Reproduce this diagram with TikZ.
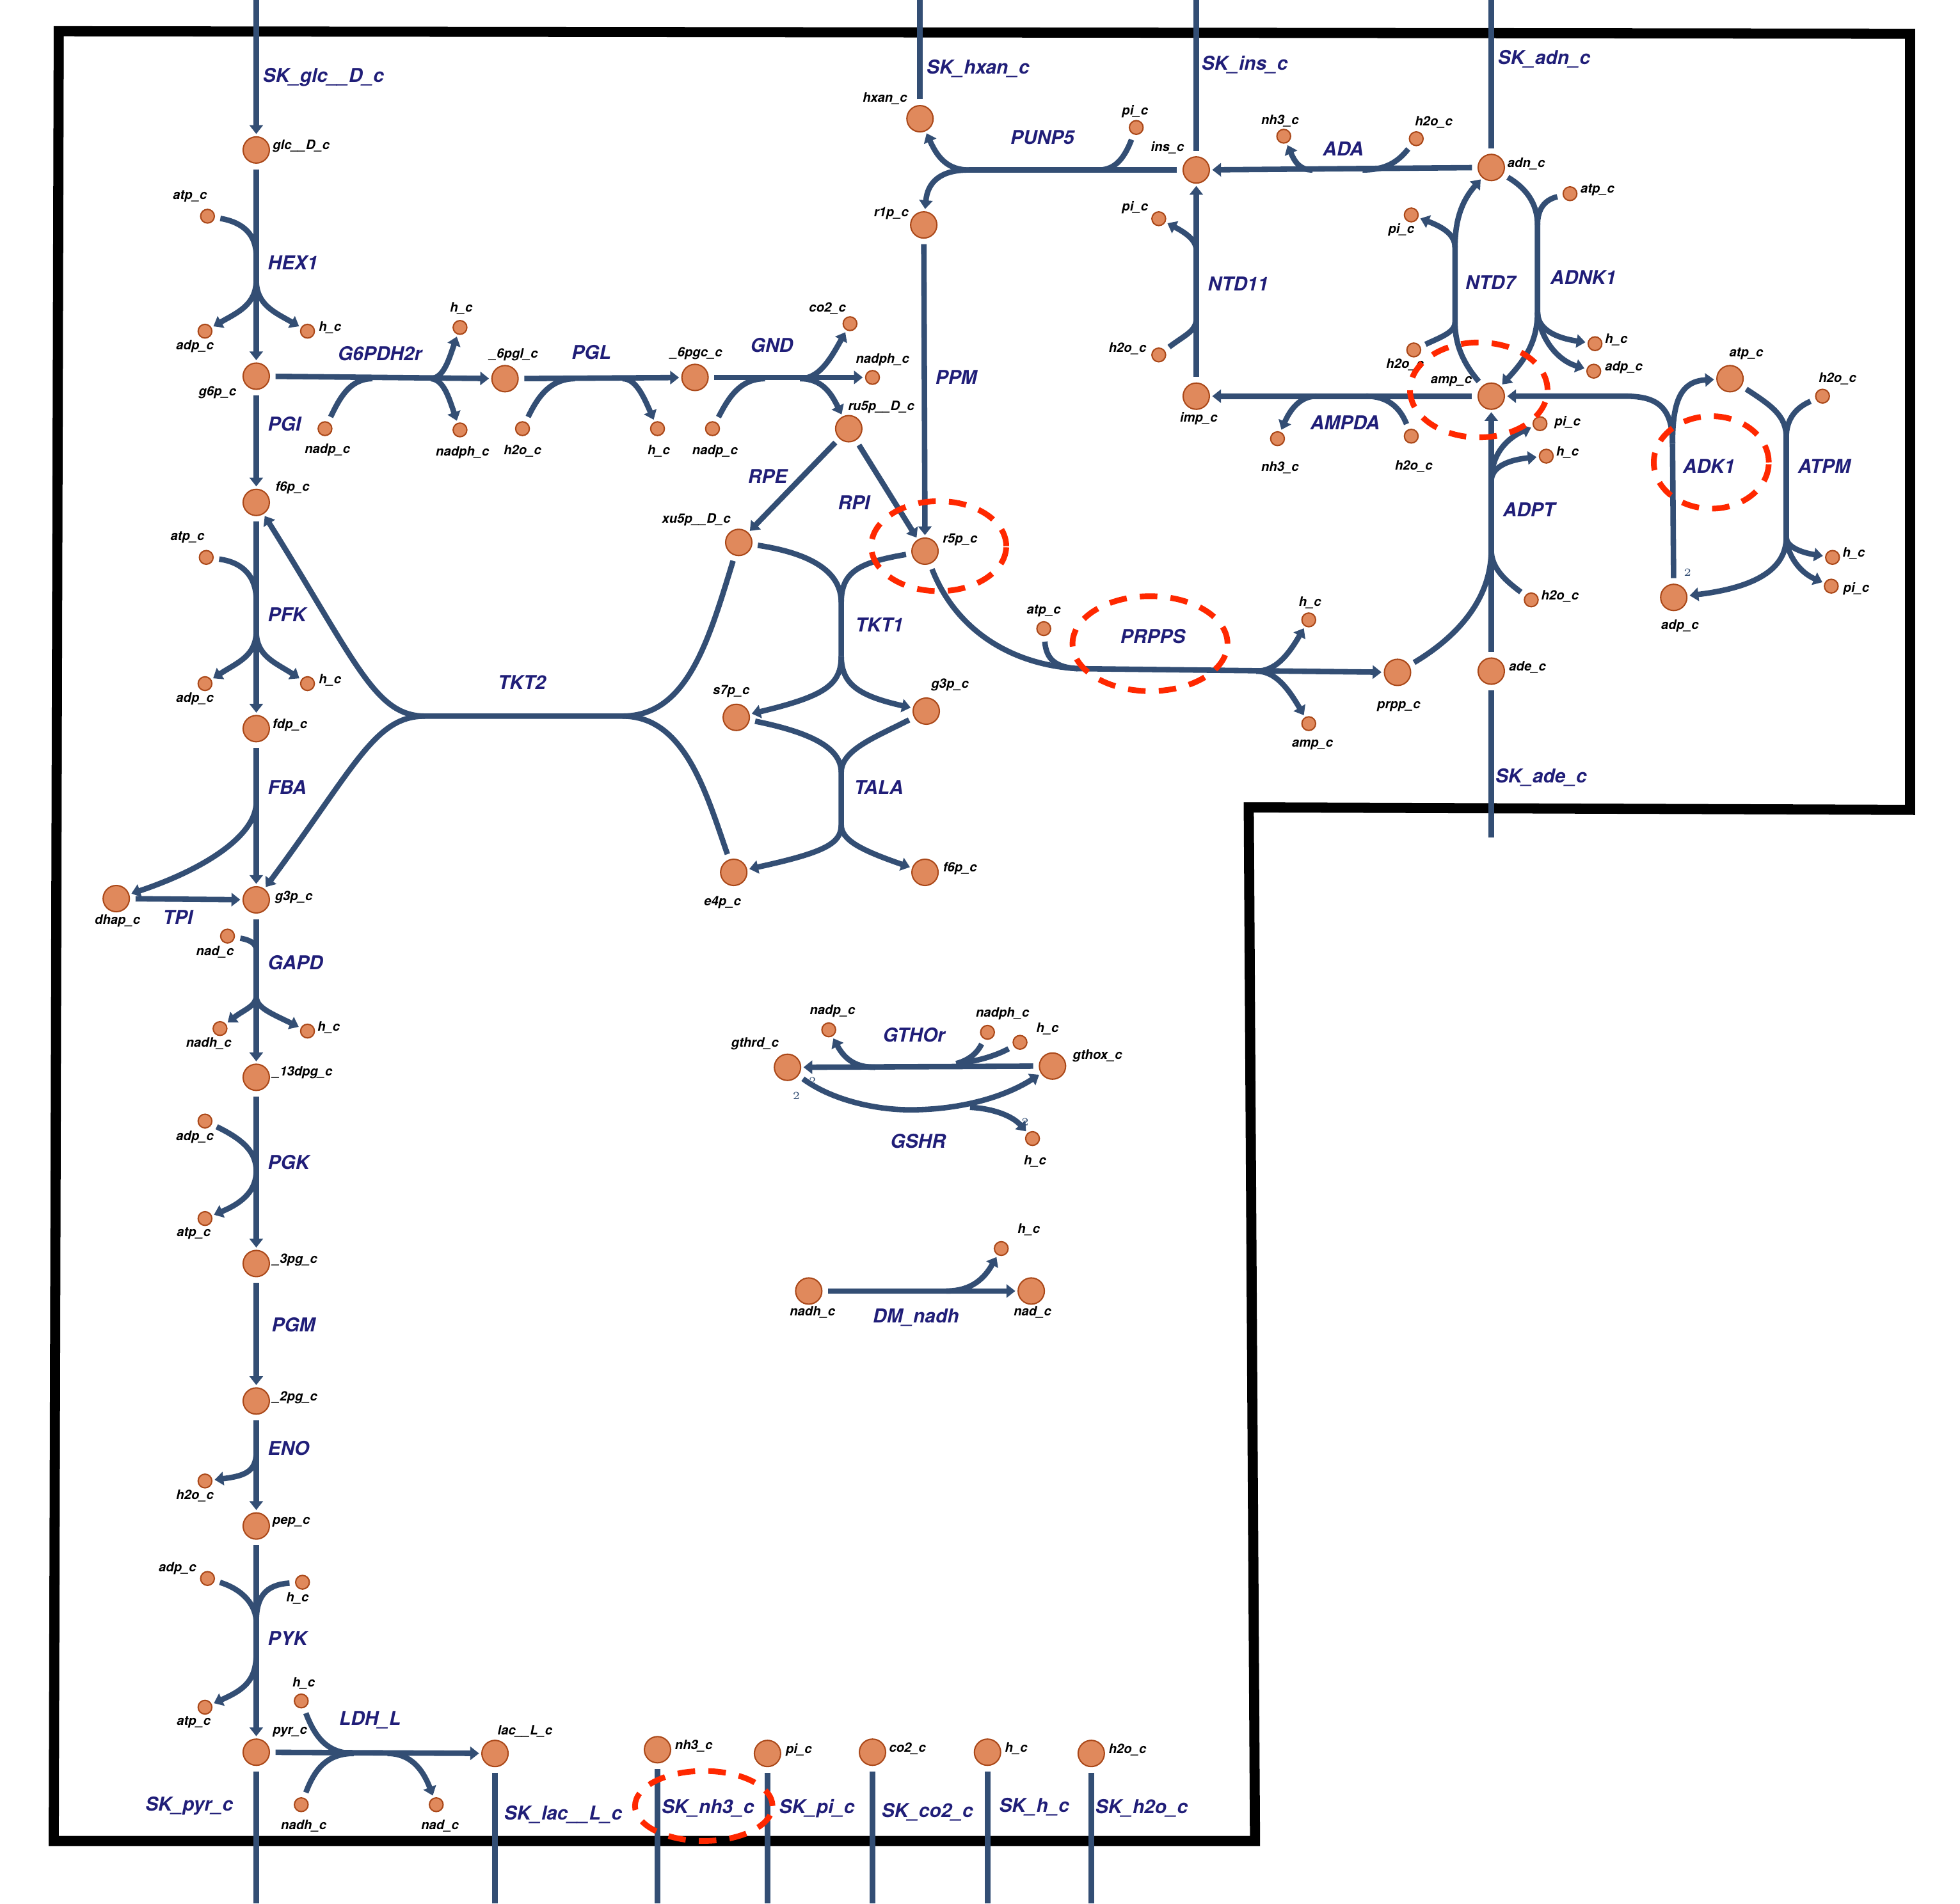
\documentclass[tikz,border=0pt]{standalone}
\usepackage{fontspec}
\usepackage{tikz}
\usetikzlibrary{
    arrows.meta
}
\newfontfamily\hv{TeX Gyre Heros}
\newcommand{\rxnfont}{\hv\bfseries\itshape\fontsize{8.7}{9}\selectfont}
\newcommand{\metfont}{\hv\bfseries\itshape\fontsize{5.9}{6}\selectfont}
\definecolor{rxnline}{RGB}{51,78,116}
\definecolor{rxntext}{RGB}{32,30,120}
\definecolor{metfill}{RGB}{224,137,92}
\definecolor{metline}{RGB}{170,72,25}
\definecolor{hired}{RGB}{255,40,0}
\tikzset{
    met/.style={
        circle,
        draw=metline,
        fill=metfill,
        line width=0.6pt,
        minimum size=0.42cm,
        inner sep=0pt
    },
    smet/.style={met, minimum size=0.22cm},
    mlab/.style={font=\metfont, inner sep=0pt},
    rlab/.style={font=\rxnfont, text=rxntext, inner sep=0pt, anchor=west},
    rxn/.style={draw=rxnline, line width=2.5pt},
    gapped/.style={shorten <=2.5pt},
    tip/.style={->, shorten >=1pt},
    stoich/.style={font=\fontsize{5}{5}\selectfont, text=rxnline, inner sep=0pt},
    hilite/.style={draw=hired, line width=2.6pt, dash pattern=on 8pt off 6pt},
    cellwall/.style={draw=black, line width=4.6pt, line join=miter}
}

\begin{document}
\begin{tikzpicture}[
    x=0.02cm,
    y=-0.02cm,
    >={Triangle[width=6pt,length=4pt]}
]
    \useasboundingbox (0,0) rectangle (1568,1523);

    % Compartimento
    \draw[cellwall] (47,25) -- (1528,27) -- (1528,648) -- (999,646)
        -- (1004,1473) -- (43,1473) -- cycle;

    % Metabolitos principales
    \node[met] (glc)   at (205,120)  {};
    \node[met] (g6p)   at (205,301)  {};
    \node[met] (f6p)   at (205,402)  {};
    \node[met] (fdp)   at (205,583)  {};
    \node[met] (dhap)  at (93,719)   {};
    \node[met] (g3p)   at (205,720)  {};
    \node[met] (dpg)   at (205,862)  {};
    \node[met] (pgt)   at (205,1011) {};
    \node[met] (pgd)   at (205,1121) {};
    \node[met] (pep)   at (205,1221) {};
    \node[met] (pyr)   at (205,1402) {};
    \node[met] (lac)   at (396,1403) {};
    \node[met] (pgl)   at (404,303)  {};
    \node[met] (pgc)   at (556,302)  {};
    \node[met] (ru5p)  at (679,343)  {};
    \node[met] (xu5p)  at (591,434)  {};
    \node[met] (r5p)   at (740,441)  {};
    \node[met] (r1p)   at (739,180)  {};
    \node[met] (hxan)  at (736,95)   {};
    \node[met] (ins)   at (957,136)  {};
    \node[met] (adn)   at (1193,134) {};
    \node[met] (imp)   at (957,317)  {};
    \node[met] (amp)   at (1193,317) {};
    \node[met] (ade)   at (1193,537) {};
    \node[met] (prpp)  at (1118,538) {};
    \node[met] (atpk)  at (1384,303) {};
    \node[met] (adpk)  at (1339,478) {};
    \node[met] (s7p)   at (589,574)  {};
    \node[met] (g3pb)  at (741,569)  {};
    \node[met] (e4p)   at (587,698)  {};
    \node[met] (f6pb)  at (740,698)  {};
    \node[met] (gthrd) at (630,854)  {};
    \node[met] (gthox) at (842,853)  {};
    \node[met] (nadhd) at (647,1033) {};
    \node[met] (nadd)  at (825,1033) {};
    \node[met] (nh3x)  at (526,1400) {};
    \node[met] (pix)   at (614,1403) {};
    \node[met] (co2x)  at (698,1402) {};
    \node[met] (hx)    at (790,1402) {};
    \node[met] (h2ox)  at (873,1403) {};

    \node[mlab] (glcL)   at (241,117)  {glc\_\_D\_c};
    \node[mlab] (g6pL)   at (174,314)  {g6p\_c};
    \node[mlab] (f6pL)   at (234,390)  {f6p\_c};
    \node[mlab] (fdpL)   at (232,580)  {fdp\_c};
    \node[mlab] (dhapL)  at (94,737)   {dhap\_c};
    \node[mlab] (g3pL)   at (235,718)  {g3p\_c};
    \node[mlab] (dpgL)   at (242,858)  {\_13dpg\_c};
    \node[mlab] (pgtL)   at (236,1008) {\_3pg\_c};
    \node[mlab] (pgdL)   at (236,1118) {\_2pg\_c};
    \node[mlab] (pepL)   at (233,1218) {pep\_c};
    \node[mlab] (pyrL)   at (232,1386) {pyr\_c};
    \node[mlab] (lacL)   at (420,1385) {lac\_\_L\_c};
    \node[mlab] (pglL)   at (411,284)  {\_6pgl\_c};
    \node[mlab] (pgcL)   at (557,283)  {\_6pgc\_c};
    \node[mlab] (ru5pL)  at (705,326)  {ru5p\_\_D\_c};
    \node[mlab] (xu5pL)  at (557,416)  {xu5p\_\_D\_c};
    \node[mlab] (r5pL)   at (768,432)  {r5p\_c};
    \node[mlab] (r1pL)   at (713,171)  {r1p\_c};
    \node[mlab] (hxanL)  at (708,79)   {hxan\_c};
    \node[mlab] (insL)   at (934,118)  {ins\_c};
    \node[mlab] (adnL)   at (1221,131) {adn\_c};
    \node[mlab] (impL)   at (959,335)  {imp\_c};
    \node[mlab] (ampL)   at (1161,305) {amp\_c};
    \node[mlab] (adeL)   at (1222,534) {ade\_c};
    \node[mlab] (prppL)  at (1119,565) {prpp\_c};
    \node[mlab] (atpkL)  at (1397,283) {atp\_c};
    \node[mlab] (adpkL)  at (1344,501) {adp\_c};
    \node[mlab] (s7pL)   at (585,553)  {s7p\_c};
    \node[mlab] (g3pbL)  at (760,548)  {g3p\_c};
    \node[mlab] (e4pL)   at (578,722)  {e4p\_c};
    \node[mlab] (f6pbL)  at (768,695)  {f6p\_c};
    \node[mlab] (gthrdL) at (604,835)  {gthrd\_c};
    \node[mlab] (gthoxL) at (878,845)  {gthox\_c};
    \node[mlab] (nadhdL) at (650,1050) {nadh\_c};
    \node[mlab] (naddL)  at (826,1050) {nad\_c};
    \node[mlab] (nh3xL)  at (555,1397) {nh3\_c};
    \node[mlab] (pixL)   at (639,1400) {pi\_c};
    \node[mlab] (co2xL)  at (726,1399) {co2\_c};
    \node[mlab] (hxL)    at (813,1399) {h\_c};
    \node[mlab] (h2oxL)  at (902,1400) {h2o\_c};

    % Cofactores
    \node[smet] (atpa)   at (166,173)  {};
    \node[smet] (adpa)   at (164,265)  {};
    \node[smet] (ha)     at (246,265)  {};
    \node[smet] (nadpb)  at (260,343)  {};
    \node[smet] (hb)     at (368,262)  {};
    \node[smet] (nadphb) at (368,344)  {};
    \node[smet] (h2oc)   at (418,343)  {};
    \node[smet] (hc)     at (526,343)  {};
    \node[smet] (nadpd)  at (570,343)  {};
    \node[smet] (co2d)   at (680,259)  {};
    \node[smet] (nadphd) at (698,302)  {};
    \node[smet] (pie)    at (909,102)  {};
    \node[smet] (nh3f)   at (1027,109) {};
    \node[smet] (h2of)   at (1133,111) {};
    \node[smet] (pig)    at (927,175)  {};
    \node[smet] (h2og)   at (927,284)  {};
    \node[smet] (pih)    at (1129,172) {};
    \node[smet] (h2oh)   at (1131,280) {};
    \node[smet] (atpi)   at (1256,155) {};
    \node[smet] (hi)     at (1276,275) {};
    \node[smet] (adpi)   at (1275,297) {};
    \node[smet] (nh3j)   at (1022,351) {};
    \node[smet] (h2oj)   at (1129,349) {};
    \node[smet] (pik)    at (1232,339) {};
    \node[smet] (hk)     at (1237,365) {};
    \node[smet] (h2ok)   at (1225,480) {};
    \node[smet] (h2ol)   at (1458,317) {};
    \node[smet] (hl)     at (1466,446) {};
    \node[smet] (pil)    at (1465,469) {};
    \node[smet] (atpn)   at (835,503)  {};
    \node[smet] (hn)     at (1047,496) {};
    \node[smet] (ampn)   at (1047,579) {};
    \node[smet] (atpo)   at (165,446)  {};
    \node[smet] (adpo)   at (164,547)  {};
    \node[smet] (ho)     at (246,547)  {};
    \node[smet] (nadq)   at (182,749)  {};
    \node[smet] (nadhq)  at (176,823)  {};
    \node[smet] (hq)     at (246,825)  {};
    \node[smet] (adpr)   at (164,897)  {};
    \node[smet] (atpr)   at (164,975)  {};
    \node[smet] (h2os)   at (164,1185) {};
    \node[smet] (adpt)   at (166,1263) {};
    \node[smet] (ht)     at (242,1266) {};
    \node[smet] (atpt)   at (164,1366) {};
    \node[smet] (hu)     at (241,1361) {};
    \node[smet] (nadhu)  at (241,1444) {};
    \node[smet] (nadu)   at (349,1444) {};
    \node[smet] (nadpv)  at (663,824)  {};
    \node[smet] (nadphv) at (790,826)  {};
    \node[smet] (hgt)    at (816,834)  {};
    \node[smet] (hw)     at (826,911)  {};
    \node[smet] (hz)     at (801,999)  {};

    \node[mlab] (atpaL)   at (152,157)  {atp\_c};
    \node[mlab] (adpaL)   at (156,277)  {adp\_c};
    \node[mlab] (haL)     at (264,262)  {h\_c};
    \node[mlab] (nadpbL)  at (262,360)  {nadp\_c};
    \node[mlab] (hbL)     at (369,247)  {h\_c};
    \node[mlab] (nadphbL) at (370,362)  {nadph\_c};
    \node[mlab] (h2ocL)   at (418,361)  {h2o\_c};
    \node[mlab] (hcL)     at (527,361)  {h\_c};
    \node[mlab] (nadpdL)  at (572,361)  {nadp\_c};
    \node[mlab] (co2dL)   at (662,247)  {co2\_c};
    \node[mlab] (nadphdL) at (706,288)  {nadph\_c};
    \node[mlab] (pieL)    at (908,89)   {pi\_c};
    \node[mlab] (nh3fL)   at (1024,97)  {nh3\_c};
    \node[mlab] (h2ofL)   at (1147,98)  {h2o\_c};
    \node[mlab] (pigL)    at (908,166)  {pi\_c};
    \node[mlab] (h2ogL)   at (902,279)  {h2o\_c};
    \node[mlab] (pihL)    at (1121,184) {pi\_c};
    \node[mlab] (h2ohL)   at (1124,292) {h2o\_c};
    \node[mlab] (atpiL)   at (1278,152) {atp\_c};
    \node[mlab] (hiL)     at (1293,272) {h\_c};
    \node[mlab] (adpiL)   at (1299,294) {adp\_c};
    \node[mlab] (nh3jL)   at (1024,374) {nh3\_c};
    \node[mlab] (h2ojL)   at (1131,373) {h2o\_c};
    \node[mlab] (pikL)    at (1254,338) {pi\_c};
    \node[mlab] (hkL)     at (1254,362) {h\_c};
    \node[mlab] (h2okL)   at (1248,477) {h2o\_c};
    \node[mlab] (h2olL)   at (1470,303) {h2o\_c};
    \node[mlab] (hlL)     at (1483,443) {h\_c};
    \node[mlab] (pilL)    at (1485,471) {pi\_c};
    \node[mlab] (atpnL)   at (835,489)  {atp\_c};
    \node[mlab] (hnL)     at (1048,482) {h\_c};
    \node[mlab] (ampnL)   at (1050,596) {amp\_c};
    \node[mlab] (atpoL)   at (150,430)  {atp\_c};
    \node[mlab] (adpoL)   at (156,559)  {adp\_c};
    \node[mlab] (hoL)     at (264,544)  {h\_c};
    \node[mlab] (nadqL)   at (172,762)  {nad\_c};
    \node[mlab] (nadhqL)  at (167,835)  {nadh\_c};
    \node[mlab] (hqL)     at (263,822)  {h\_c};
    \node[mlab] (adprL)   at (156,910)  {adp\_c};
    \node[mlab] (atprL)   at (155,987)  {atp\_c};
    \node[mlab] (h2osL)   at (156,1197) {h2o\_c};
    \node[mlab] (adptL)   at (142,1255) {adp\_c};
    \node[mlab] (htL)     at (238,1279) {h\_c};
    \node[mlab] (atptL)   at (155,1378) {atp\_c};
    \node[mlab] (huL)     at (243,1347) {h\_c};
    \node[mlab] (nadhuL)  at (243,1461) {nadh\_c};
    \node[mlab] (naduL)   at (352,1461) {nad\_c};
    \node[mlab] (nadpvL)  at (666,809)  {nadp\_c};
    \node[mlab] (nadphvL) at (802,811)  {nadph\_c};
    \node[mlab] (hgtL)    at (838,823)  {h\_c};
    \node[mlab] (hwL)     at (828,929)  {h\_c};
    \node[mlab] (hzL)     at (823,984)  {h\_c};

    % Extremos de los sumideros
    \coordinate (glcE)  at (205,0);
    \coordinate (hxanE) at (736,0);
    \coordinate (insE)  at (957,0);
    \coordinate (adnE)  at (1193,0);
    \coordinate (adeE)  at (1193,670);
    \coordinate (pyrE)  at (205,1523);
    \coordinate (lacE)  at (396,1523);
    \coordinate (nh3E)  at (526,1523);
    \coordinate (piE)   at (614,1523);
    \coordinate (co2E)  at (698,1523);
    \coordinate (hE)    at (790,1523);
    \coordinate (h2oE)  at (873,1523);

    % Puntos de union
    \coordinate (hexA)   at (205,205);
    \coordinate (hexB)   at (205,224);
    \coordinate (gpdA)   at (298,303);
    \coordinate (gpdB)   at (345,303);
    \coordinate (pglA)   at (460,303);
    \coordinate (pglB)   at (498,303);
    \coordinate (gndA)   at (612,303);
    \coordinate (gndB)   at (640,303);
    \coordinate (punA)   at (879,136);
    \coordinate (punB)   at (775,136);
    \coordinate (adaA)   at (1090,136);
    \coordinate (adaB)   at (1050,136);
    \coordinate (ntdA)   at (957,255);
    \coordinate (ntdB)   at (957,200);
    \coordinate (ntsA)   at (1164,258);
    \coordinate (ntsB)   at (1164,198);
    \coordinate (adkA)   at (1230,180);
    \coordinate (adkB)   at (1230,250);
    \coordinate (ampdA)  at (1093,317);
    \coordinate (ampdB)  at (1053,317);
    \coordinate (akA)    at (1338,355);
    \coordinate (akB)    at (1300,317);
    \coordinate (atpmA)  at (1429,350);
    \coordinate (atpmB)  at (1429,430);
    \coordinate (adptA)  at (1193,440);
    \coordinate (adptB)  at (1193,385);
    \coordinate (prsA)   at (862,535);
    \coordinate (prsB)   at (1005,537);
    \coordinate (tkaA)   at (673,482);
    \coordinate (tkaB)   at (673,525);
    \coordinate (talA)   at (673,618);
    \coordinate (talB)   at (673,660);
    \coordinate (tkbA)   at (498,573);
    \coordinate (tkbB)   at (340,573);
    \coordinate (pfkA)   at (205,480);
    \coordinate (pfkB)   at (205,505);
    \coordinate (fbaA)   at (205,642);
    \coordinate (gapA)   at (205,760);
    \coordinate (gapB)   at (205,797);
    \coordinate (pgkA)   at (205,937);
    \coordinate (enoA)   at (205,1162);
    \coordinate (pykA)   at (205,1298);
    \coordinate (pykB)   at (205,1323);
    \coordinate (ldhA)   at (283,1403);
    \coordinate (ldhB)   at (310,1403);
    \coordinate (gtoA)   at (765,851);
    \coordinate (gtoB)   at (700,854);
    \coordinate (gshA)   at (728,888);
    \coordinate (gshB)   at (776,886);
    \coordinate (dmA)    at (757,1033);

    % Sumideros
    \draw[rxn,tip] (glcE) -- (glc);
    \draw[rxn,gapped] (hxan) -- (hxanE);
    \draw[rxn,gapped] (ins) -- (insE);
    \draw[rxn,gapped] (adn) -- (adnE);
    \draw[rxn,gapped] (ade) -- (adeE);
    \draw[rxn,gapped] (pyr) -- (pyrE);
    \draw[rxn,gapped] (lac) -- (lacE);
    \draw[rxn,gapped] (nh3x) -- (nh3E);
    \draw[rxn,gapped] (pix) -- (piE);
    \draw[rxn,gapped] (co2x) -- (co2E);
    \draw[rxn,gapped] (hx) -- (hE);
    \draw[rxn,gapped] (h2ox) -- (h2oE);

    % Glucolisis
    \draw[rxn,gapped,tip] (glc) -- (g6p);
    \draw[rxn,gapped] (atpa) .. controls (195,178) and (205,188) .. (hexA);
    \draw[rxn,tip] (hexB) .. controls (205,244) and (190,250) .. (adpa);
    \draw[rxn,tip] (hexB) .. controls (205,244) and (220,250) .. (ha);

    \draw[rxn,gapped,tip] (g6p) -- (f6p);

    \draw[rxn,gapped,tip] (f6p) -- (fdp);
    \draw[rxn,gapped] (atpo) .. controls (195,450) and (205,462) .. (pfkA);
    \draw[rxn,tip] (pfkB) .. controls (205,525) and (190,530) .. (adpo);
    \draw[rxn,tip] (pfkB) .. controls (205,525) and (220,530) .. (ho);

    \draw[rxn,gapped,tip] (fdp) -- (g3p);
    \draw[rxn,tip] (fbaA) .. controls (205,668) and (165,695) .. (dhap);
    \draw[rxn,gapped,tip] (dhap) -- (g3p);

    \draw[rxn,gapped,tip] (g3p) -- (dpg);
    \draw[rxn,gapped] (nadq) .. controls (200,752) and (205,755) .. (gapA);
    \draw[rxn,tip] (gapB) .. controls (205,805) and (195,808) .. (nadhq);
    \draw[rxn,tip] (gapB) .. controls (205,806) and (215,810) .. (hq);

    \draw[rxn,gapped,tip] (dpg) -- (pgt);
    \draw[rxn,gapped] (adpr) .. controls (195,912) and (205,922) .. (pgkA);
    \draw[rxn,tip] (pgkA) .. controls (205,952) and (195,962) .. (atpr);

    \draw[rxn,gapped,tip] (pgt) -- (pgd);

    \draw[rxn,gapped,tip] (pgd) -- (pep);
    \draw[rxn,tip] (enoA) .. controls (205,1178) and (195,1181) .. (h2os);

    \draw[rxn,gapped,tip] (pep) -- (pyr);
    \draw[rxn,gapped] (adpt) .. controls (195,1272) and (205,1285) .. (pykA);
    \draw[rxn,gapped] (ht) .. controls (212,1268) and (205,1278) .. (pykA);
    \draw[rxn,tip] (pykB) .. controls (205,1345) and (195,1352) .. (atpt);

    \draw[rxn,gapped,tip] (pyr) -- (lac);
    \draw[rxn,gapped] (hu) .. controls (252,1390) and (262,1403) .. (ldhA);
    \draw[rxn,gapped] (nadhu) .. controls (252,1415) and (262,1403) .. (ldhA);
    \draw[rxn,tip] (ldhB) .. controls (328,1403) and (338,1415) .. (nadu);

    % Via de las pentosas
    \draw[rxn,gapped,tip] (g6p) -- (pgl);
    \draw[rxn,gapped] (nadpb) .. controls (272,318) and (280,303) .. (gpdA);
    \draw[rxn,tip] (gpdB) .. controls (355,302) and (359,288) .. (hb);
    \draw[rxn,tip] (gpdB) .. controls (355,304) and (359,318) .. (nadphb);

    \draw[rxn,gapped,tip] (pgl) -- (pgc);
    \draw[rxn,gapped] (h2oc) .. controls (430,318) and (440,303) .. (pglA);
    \draw[rxn,tip] (pglB) .. controls (508,303) and (514,315) .. (hc);

    \draw[rxn,gapped,tip] (pgc) -- (nadphd);
    \draw[rxn,gapped] (nadpd) .. controls (583,318) and (592,303) .. (gndA);
    \draw[rxn,tip] (gndB) .. controls (655,303) and (664,288) .. (co2d);
    \draw[rxn,tip] (gndB) .. controls (658,303) and (665,315) .. (ru5p);

    \draw[rxn,gapped,tip] (ru5p) -- (xu5p);
    \draw[rxn,gapped,tip] (ru5p) -- (r5p);
    \draw[rxn,gapped,tip] (r1p) -- (r5p);

    \draw[rxn,gapped] (xu5p) .. controls (650,443) and (673,458) .. (tkaA) -- (tkaB);
    \draw[rxn,gapped] (r5p) .. controls (688,450) and (673,457) .. (tkaA);
    \draw[rxn,tip] (tkaB) .. controls (673,548) and (660,557) .. (s7p);
    \draw[rxn,tip] (tkaB) .. controls (673,548) and (688,557) .. (g3pb);

    \draw[rxn,gapped] (s7p) .. controls (648,586) and (673,598) .. (talA) -- (talB);
    \draw[rxn,gapped] (g3pb) .. controls (700,590) and (673,600) .. (talA);
    \draw[rxn,tip] (talB) .. controls (673,675) and (660,682) .. (e4p);
    \draw[rxn,tip] (talB) .. controls (673,672) and (688,680) .. (f6pb);

    \draw[rxn,gapped] (xu5p) .. controls (567,512) and (550,573) .. (tkbA) -- (tkbB);
    \draw[rxn,gapped] (e4p) .. controls (565,635) and (548,573) .. (tkbA);
    \draw[rxn,tip] (tkbB) .. controls (300,573) and (285,530) .. (f6p);
    \draw[rxn,tip] (tkbB) .. controls (300,573) and (285,612) .. (g3p);

    % Purinas
    \draw[rxn,gapped] (ins) -- (punB);
    \draw[rxn,gapped] (pie) .. controls (900,125) and (893,136) .. (punA);
    \draw[rxn,tip] (punB) .. controls (758,136) and (750,126) .. (hxan);
    \draw[rxn,tip] (punB) .. controls (752,136) and (742,146) .. (r1p);

    \draw[rxn,gapped,tip] (adn) -- (ins);
    \draw[rxn,gapped] (h2of) .. controls (1118,130) and (1108,136) .. (adaA);
    \draw[rxn,tip] (adaB) .. controls (1040,136) and (1036,130) .. (nh3f);

    \draw[rxn,gapped,tip] (imp) -- (ins);
    \draw[rxn,gapped] (h2og) .. controls (948,268) and (957,265) .. (ntdA);
    \draw[rxn,tip] (ntdB) .. controls (957,192) and (948,186) .. (pig);

    \draw[rxn,gapped,tip] (amp) .. controls (1170,290) and (1164,275) .. (ntsA)
        -- (ntsB) .. controls (1164,175) and (1170,160) .. (adn);
    \draw[rxn,gapped] (h2oh) .. controls (1152,270) and (1164,266) .. (ntsA);
    \draw[rxn,tip] (ntsB) .. controls (1164,188) and (1155,182) .. (pih);

    \draw[rxn,gapped,tip] (adn) .. controls (1220,150) and (1230,162) .. (adkA)
        -- (adkB) .. controls (1230,275) and (1218,290) .. (amp);
    \draw[rxn,gapped] (atpi) .. controls (1235,160) and (1230,168) .. (adkA);
    \draw[rxn,tip] (adkB) .. controls (1230,262) and (1242,270) .. (hi);
    \draw[rxn,tip] (adkB) .. controls (1232,270) and (1245,288) .. (adpi);

    \draw[rxn,gapped,tip] (amp) -- (imp);
    \draw[rxn,gapped] (h2oj) .. controls (1120,326) and (1110,317) .. (ampdA);
    \draw[rxn,tip] (ampdB) .. controls (1040,317) and (1032,328) .. (nh3j);

    \draw[rxn,gapped] (adpk) -- (akA);
    \draw[rxn,tip] (akA) .. controls (1338,325) and (1325,317) .. (akB) -- (amp);
    \draw[rxn,tip] (akA) .. controls (1338,320) and (1345,305) .. (atpk);

    \draw[rxn,gapped] (atpk) .. controls (1418,325) and (1429,333) .. (atpmA) -- (atpmB);
    \draw[rxn,gapped] (h2ol) .. controls (1437,326) and (1429,335) .. (atpmA);
    \draw[rxn,tip] (atpmB) .. controls (1429,455) and (1405,470) .. (adpk);
    \draw[rxn,tip] (atpmB) .. controls (1429,437) and (1440,442) .. (hl);
    \draw[rxn,tip] (atpmB) .. controls (1430,445) and (1440,458) .. (pil);

    \draw[rxn,gapped,tip] (ade) -- (amp);
    \draw[rxn,gapped] (prpp) .. controls (1165,510) and (1193,480) .. (adptA);
    \draw[rxn,gapped] (h2ok) .. controls (1205,465) and (1193,455) .. (adptA);
    \draw[rxn,tip] (adptB) .. controls (1193,362) and (1207,350) .. (pik);
    \draw[rxn,tip] (adptB) .. controls (1193,374) and (1206,368) .. (hk);

    \draw[rxn,gapped,tip] (r5p) .. controls (765,505) and (810,532) .. (prsA) -- (prpp);
    \draw[rxn,gapped] (atpn) .. controls (837,528) and (845,534) .. (prsA);
    \draw[rxn,tip] (prsB) .. controls (1020,537) and (1030,525) .. (hn);
    \draw[rxn,tip] (prsB) .. controls (1020,537) and (1030,550) .. (ampn);

    % Glutation
    \draw[rxn,gapped,tip] (gthox) -- (gthrd);
    \draw[rxn,gapped] (nadphv) .. controls (782,842) and (776,848) .. (gtoA);
    \draw[rxn,gapped] (hgt) .. controls (800,843) and (785,849) .. (gtoA);
    \draw[rxn,tip] (gtoB) .. controls (685,854) and (676,848) .. (nadpv);

    \draw[rxn,gapped,tip] (gthrd) .. controls (665,880) and (700,888) .. (gshA)
        .. controls (770,888) and (805,877) .. (gthox);
    \draw[rxn,tip] (gshB) .. controls (795,887) and (810,893) .. (hw);

    \draw[rxn,gapped,tip] (nadhd) -- (nadd);
    \draw[rxn,tip] (dmA) .. controls (778,1033) and (788,1022) .. (hz);

    % Coeficientes
    \node[stoich] (nA) at (1350,458) {2};
    \node[stoich] (nB) at (650,865)  {2};
    \node[stoich] (nC) at (637,877)  {2};
    \node[stoich] (nD) at (820,898)  {2};

    % Reacciones
    \node[rlab] (rSKglc)  at (210,62)   {SK\_glc\_\_D\_c};
    \node[rlab] (rHEX1)   at (214,210)  {HEX1};
    \node[rlab] (rG6PDH)  at (270,283)  {G6PDH2r};
    \node[rlab] (rPGI)    at (214,339)  {PGI};
    \node[rlab] (rPGL)    at (457,282)  {PGL};
    \node[rlab] (rGND)    at (600,276)  {GND};
    \node[rlab] (rPPM)    at (748,302)  {PPM};
    \node[rlab] (rPUNP5)  at (808,110)  {PUNP5};
    \node[rlab] (rSKhxan) at (741,55)   {SK\_hxan\_c};
    \node[rlab] (rSKins)  at (961,52)   {SK\_ins\_c};
    \node[rlab] (rADA)    at (1058,119) {ADA};
    \node[rlab] (rSKadn)  at (1198,47)  {SK\_adn\_c};
    \node[rlab] (rNTD11)  at (966,227)  {NTD11};
    \node[rlab] (rNTD7)   at (1172,226) {NTD7};
    \node[rlab] (rADNK1)  at (1240,222) {ADNK1};
    \node[rlab] (rAMPDA)  at (1048,338) {AMPDA};
    \node[rlab] (rADK1)   at (1346,373) {ADK1};
    \node[rlab] (rATPM)   at (1438,373) {ATPM};
    \node[rlab] (rADPT)   at (1202,408) {ADPT};
    \node[rlab] (rSKade)  at (1196,622) {SK\_ade\_c};
    \node[rlab] (rPRPPS)  at (896,509)  {PRPPS};
    \node[rlab] (rRPE)    at (598,381)  {RPE};
    \node[rlab] (rRPI)    at (670,402)  {RPI};
    \node[rlab] (rTKT1)   at (684,500)  {TKT1};
    \node[rlab] (rTKT2)   at (398,546)  {TKT2};
    \node[rlab] (rTALA)   at (683,630)  {TALA};
    \node[rlab] (rPFK)    at (214,492)  {PFK};
    \node[rlab] (rFBA)    at (214,630)  {FBA};
    \node[rlab] (rTPI)    at (130,734)  {TPI};
    \node[rlab] (rGAPD)   at (214,770)  {GAPD};
    \node[rlab] (rPGK)    at (214,930)  {PGK};
    \node[rlab] (rPGM)    at (217,1060) {PGM};
    \node[rlab] (rENO)    at (214,1159) {ENO};
    \node[rlab] (rPYK)    at (214,1311) {PYK};
    \node[rlab] (rLDH)    at (271,1376) {LDH\_L};
    \node[rlab] (rSKpyr)  at (116,1445) {SK\_pyr\_c};
    \node[rlab] (rSKlac)  at (403,1452) {SK\_lac\_\_L\_c};
    \node[rlab] (rSKnh3)  at (529,1447) {SK\_nh3\_c};
    \node[rlab] (rSKpi)   at (623,1447) {SK\_pi\_c};
    \node[rlab] (rSKco2)  at (705,1450) {SK\_co2\_c};
    \node[rlab] (rSKh)    at (799,1446) {SK\_h\_c};
    \node[rlab] (rSKh2o)  at (876,1447) {SK\_h2o\_c};
    \node[rlab] (rGTHOr)  at (706,828)  {GTHOr};
    \node[rlab] (rGSHR)   at (712,913)  {GSHR};
    \node[rlab] (rDMnadh) at (698,1054) {DM\_nadh};

    % Marcas
    \draw[hilite] (751,437)  ellipse [x radius=1.08cm, y radius=0.72cm];
    \draw[hilite] (920,515)  ellipse [x radius=1.24cm, y radius=0.76cm];
    \draw[hilite] (1183,312) ellipse [x radius=1.10cm, y radius=0.76cm];
    \draw[hilite] (1369,370) ellipse [x radius=0.92cm, y radius=0.74cm];
    \draw[hilite] (563,1445) ellipse [x radius=1.10cm, y radius=0.56cm];

\end{tikzpicture}
\end{document}
